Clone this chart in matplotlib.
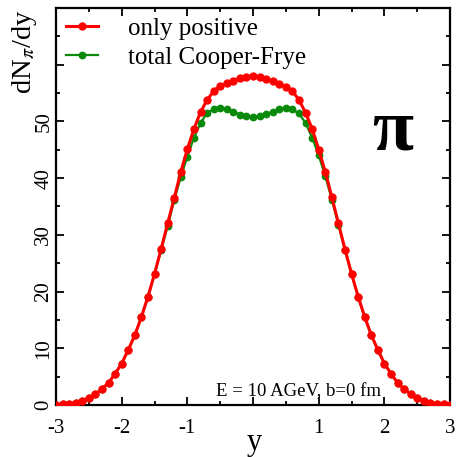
import matplotlib
matplotlib.use("Agg")
import matplotlib.pyplot as plt
from matplotlib.ticker import MultipleLocator

plt.rcParams["font.family"] = ["Liberation Serif", "DejaVu Serif"]
plt.rcParams["mathtext.fontset"] = "stix"

# rapidity grid (step 0.1)
rapidity = [
    -3.0, -2.9, -2.8, -2.7, -2.6, -2.5, -2.4, -2.3, -2.2, -2.1,
    -2.0, -1.9, -1.8, -1.7, -1.6, -1.5, -1.4, -1.3, -1.2, -1.1,
    -1.0, -0.9, -0.8, -0.7, -0.6, -0.5, -0.4, -0.3, -0.2, -0.1,
    0.0, 0.1, 0.2, 0.3, 0.4, 0.5, 0.6, 0.7, 0.8, 0.9,
    1.0, 1.1, 1.2, 1.3, 1.4, 1.5, 1.6, 1.7, 1.8, 1.9,
    2.0, 2.1, 2.2, 2.3, 2.4, 2.5, 2.6, 2.7, 2.8, 2.9, 3.0,
]

only_positive = [
    0.06, 0.12, 0.22, 0.42, 0.75, 1.25, 1.9, 2.8, 3.9, 5.5,
    7.3, 9.7, 12.3, 15.5, 19.1, 23.1, 27.5, 32.0, 36.5, 41.1,
    45.1, 48.7, 51.6, 53.8, 55.3, 56.3, 56.7, 57.1, 57.6, 57.9,
    58.0, 57.8, 57.5, 57.1, 56.6, 56.1, 55.3, 53.8, 51.5, 48.7,
    45.0, 41.1, 36.6, 32.0, 27.4, 23.1, 19.1, 15.5, 12.3, 9.7,
    7.3, 5.5, 3.9, 2.8, 1.9, 1.2, 0.7, 0.38, 0.2, 0.1, 0.05,
]

total_cf = [
    0.06, 0.12, 0.22, 0.42, 0.75, 1.25, 1.9, 2.8, 3.9, 5.5,
    7.3, 9.7, 12.3, 15.5, 19.0, 23.0, 27.3, 31.5, 36.1, 40.2,
    43.8, 47.1, 49.7, 51.5, 52.1, 52.4, 52.2, 51.7, 51.2, 50.9,
    50.7, 50.9, 51.3, 51.7, 52.1, 52.4, 52.1, 51.4, 49.7, 47.1,
    44.0, 40.3, 36.2, 31.7, 27.3, 23.0, 19.0, 15.5, 12.3, 9.7,
    7.3, 5.5, 3.9, 2.8, 1.9, 1.2, 0.7, 0.38, 0.2, 0.1, 0.05,
]

x_ticks = [-3, -2, -1, 0, 1, 2, 3]
x_ticklabels = ["-3", "-2", "-1", "", "1", "2", "3"]
y_ticks = [0, 10, 20, 30, 40, 50, 60, 70]
y_ticklabels = ["0", "10", "20", "30", "40", "50", "", ""]

fig = plt.figure(figsize=(4.57, 4.57), dpi=100)
ax = fig.add_axes([0.1225, 0.114, 0.8625, 0.8685])

ax.plot(rapidity, total_cf, color="#0a8a0a", lw=1.6, marker="o", ms=4.6,
        label="total Cooper-Frye", zorder=2)
ax.plot(rapidity, only_positive, color="#ff0000", lw=2.2, marker="o", ms=5.0,
        label="only positive", zorder=3)

ax.set_xlim(-3, 3)
ax.set_ylim(0, 70)
ax.set_xticks(x_ticks)
ax.set_xticklabels(x_ticklabels, fontsize=15)
ax.set_yticks(y_ticks)
ax.set_yticklabels(y_ticklabels, fontsize=15, rotation=90, va="center")
ax.xaxis.set_minor_locator(MultipleLocator(0.5))
ax.yaxis.set_minor_locator(MultipleLocator(5))
ax.tick_params(which="both", direction="in", top=True, right=True, width=1.3)
ax.tick_params(which="major", length=5.5)
ax.tick_params(which="minor", length=3)
ax.tick_params(axis="x", pad=10)
ax.tick_params(axis="y", pad=2)
for sp in ax.spines.values():
    sp.set_linewidth(1.6)

ax.set_xlabel("y", fontsize=22)
ax.xaxis.set_label_coords(0.504, -0.058)
ax.set_ylabel(r"dN$_{\pi}$/dy", fontsize=20.5)
ax.yaxis.set_label_coords(-0.043, 0.89)

handles, labels = ax.get_legend_handles_labels()
ax.legend(handles[::-1], labels[::-1], loc="upper left", frameon=False,
          fontsize=18, handlelength=1.25, handletextpad=1.2, labelspacing=0.25,
          bbox_to_anchor=(-0.018, 1.02), borderaxespad=0.3)

ax.text(0.855, 0.69, "π", transform=ax.transAxes, fontweight="bold",
        fontsize=54, ha="center", va="center")
ax.text(0.405, 0.012, "E = 10 AGeV, b=0 fm", transform=ax.transAxes,
        fontsize=13.5, ha="left", va="bottom")

fig.savefig("out.png", dpi=100)
